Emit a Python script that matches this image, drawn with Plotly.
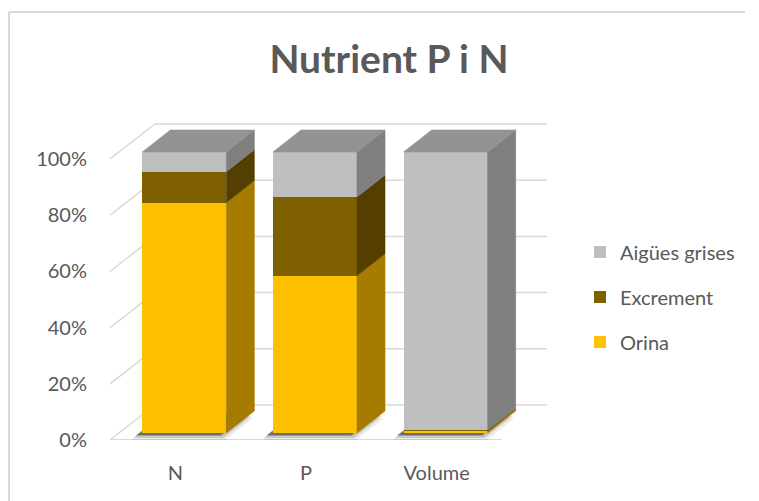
import plotly.graph_objects as go

# ---- data -------------------------------------------------------------
categories = ["N", "P", "Volume"]
orina = [82, 56, 0.8]
excrement = [11, 28, 0.2]
aigues_grises = [7, 16, 99]
y_ticks = [0, 20, 40, 60, 80, 100]
y_tick_labels = ["0%", "20%", "40%", "60%", "80%", "100%"]

series = [
    # name, values, front colour, side colour, top colour
    ("Orina", orina, "#FFC000", "#A67C00", "#D9A300"),
    ("Excrement", excrement, "#7F6000", "#543F00", "#6B5100"),
    ("Aigües grises", aigues_grises, "#BFBFBF", "#7F7F7F", "#939393"),
]

# ---- canvas / pseudo-3D geometry (pixels) -------------------------------
W, H = 759, 501
M_L, M_R, M_T, M_B = 110, 212, 122, 61
plot_w = W - M_L - M_R
plot_h = H - M_T - M_B

FLOOR_W = 392            # width of the floor's front edge
VALUE_SPAN = 281         # pixels for 0..100 %
WALL_DX, WALL_DY = 45, 35          # floor front edge -> back wall
BAR_DX0, BAR_DY0 = 9, 7            # floor front edge -> bar front face
BAR_DEPTH_DX, BAR_DEPTH_DY = 28, 22
BAR_W = 84

ux = len(categories) / FLOOR_W     # x data units per pixel
uy = 100 / VALUE_SPAN              # y data units per pixel
x_min = -0.5
x_max = x_min + plot_w * ux
y_max = plot_h * uy

GRID = "#D9D9D9"
TEXT = "#595959"
FONT = "Lato"

fig = go.Figure()

# ---- walls: gridlines on side wall + back wall, floor front edge ----------
shapes = []
for t in y_ticks:
    yb = t + WALL_DY * uy
    xb = x_min + WALL_DX * ux
    shapes.append(dict(type="line", xref="x", yref="y", x0=x_min, y0=t, x1=xb, y1=yb,
                       line=dict(color=GRID, width=1.5), layer="below"))
    shapes.append(dict(type="line", xref="x", yref="y", x0=xb, y0=yb, x1=x_max, y1=yb,
                       line=dict(color=GRID, width=1.5), layer="below"))
shapes.append(dict(type="line", xref="x", yref="y", x0=x_min, y0=0,
                   x1=x_min + FLOOR_W * ux, y1=0,
                   line=dict(color=GRID, width=2), layer="below"))

# ---- bar geometry -------------------------------------------------------
half = BAR_W * ux / 2
fx = BAR_DX0 * ux
fy = BAR_DY0 * uy
ddx = BAR_DEPTH_DX * ux
ddy = BAR_DEPTH_DY * uy

# soft drop shadows on the floor under each bar
for i, _ in enumerate(categories):
    xl, xr = i + fx - half, i + fx + half
    for grow, alpha in [(5, 0.08), (3, 0.14), (1, 0.22), (0, 0.30)]:
        ox, oy = (-6 - grow) * ux, (-2 - grow) * uy
        pts = [(xl + ox, fy + oy), (xr + ox + 2 * grow * ux, fy + oy),
               (xr + ddx + ox + 2 * grow * ux, fy + ddy + oy), (xl + ddx + ox, fy + ddy + oy)]
        path = "M " + " L ".join(f"{px},{py}" for px, py in pts) + " Z"
        shapes.append(dict(type="path", xref="x", yref="y", path=path,
                           fillcolor=f"rgba(0,0,0,{alpha})", line=dict(width=0), layer="below"))

# front faces (stacked through explicit bases)
cum = [0.0] * len(categories)
segments = []  # (series index, category index, bottom, top)
for s_idx, (name, vals, front, side, top) in enumerate(series):
    bases = [fy + c for c in cum]
    fig.add_trace(go.Bar(
        x=[i + fx for i in range(len(categories))], y=vals, base=bases,
        width=BAR_W * ux, name=name, marker=dict(color=front, line=dict(width=0)),
        legend=["legend", "legend2", "legend3"][2 - s_idx], hoverinfo="skip",
    ))
    for i, v in enumerate(vals):
        segments.append((s_idx, i, cum[i], cum[i] + v))
        cum[i] += v

# side faces
for s_idx, i, b, t in segments:
    side = series[s_idx][3]
    xr = i + fx + half
    xs = [xr, xr + ddx, xr + ddx, xr, xr]
    ys = [fy + b, fy + b + ddy, fy + t + ddy, fy + t, fy + b]
    fig.add_trace(go.Scatter(x=xs, y=ys, mode="lines", fill="toself", fillcolor=side,
                             line=dict(color=side, width=0.6), showlegend=False,
                             hoverinfo="skip"))

# top faces (colour of the highest segment of each bar)
for i in range(len(categories)):
    top_seg = max((sg for sg in segments if sg[1] == i and sg[3] > sg[2]), key=lambda sg: sg[3])
    col = series[top_seg[0]][4]
    h = fy + top_seg[3]
    xl, xr = i + fx - half, i + fx + half
    xs = [xl, xr, xr + ddx, xl + ddx, xl]
    ys = [h, h, h + ddy, h + ddy, h]
    fig.add_trace(go.Scatter(x=xs, y=ys, mode="lines", fill="toself", fillcolor=col,
                             line=dict(color=col, width=0.6), showlegend=False,
                             hoverinfo="skip"))

# chart border: its top and left edges
bx0 = (9 - M_L) / plot_w
by1 = (H - M_B - 12) / plot_h
shapes.append(dict(type="line", xref="paper", yref="paper", x0=bx0, y0=by1,
                   x1=(745 - M_L) / plot_w, y1=by1, line=dict(color=GRID, width=2)))
shapes.append(dict(type="line", xref="paper", yref="paper", x0=bx0, y0=by1,
                   x1=bx0, y1=-(M_B + 10) / plot_h, line=dict(color=GRID, width=2)))

legend_rows = [252, 297, 342]
legend_common = dict(xref="container", yref="container", xanchor="left", yanchor="middle",
                     x=580 / W, bgcolor="rgba(0,0,0,0)",
                     font=dict(family=FONT, size=20, color=TEXT))

fig.update_layout(
    width=W, height=H,
    margin=dict(l=M_L, r=M_R, t=M_T, b=M_B, autoexpand=False),
    paper_bgcolor="white", plot_bgcolor="white",
    barmode="overlay", bargap=0,
    shapes=shapes,
    title=dict(text="Nutrient P i N", x=389 / W, xref="container", xanchor="center",
               y=1 - 59 / H, yref="container", yanchor="middle",
               font=dict(family=FONT, size=39, weight="bold", color=TEXT)),
    xaxis=dict(range=[x_min, x_max], tickvals=list(range(len(categories))),
               ticktext=categories, showgrid=False, zeroline=False, showline=False,
               ticks="", ticklabelstandoff=19, automargin=False,
               tickfont=dict(family=FONT, size=20, color=TEXT), fixedrange=True),
    yaxis=dict(range=[0, y_max], tickvals=y_ticks, ticktext=y_tick_labels,
               showgrid=False, zeroline=False, showline=False, ticks="",
               ticklabelstandoff=22, automargin=False,
               tickfont=dict(family=FONT, size=20, color=TEXT), fixedrange=True),
    legend=dict(y=1 - legend_rows[0] / H, **legend_common),
    legend2=dict(y=1 - legend_rows[1] / H, **legend_common),
    legend3=dict(y=1 - legend_rows[2] / H, **legend_common),
)

fig.write_html("out.html", config={"displayModeBar": False})
